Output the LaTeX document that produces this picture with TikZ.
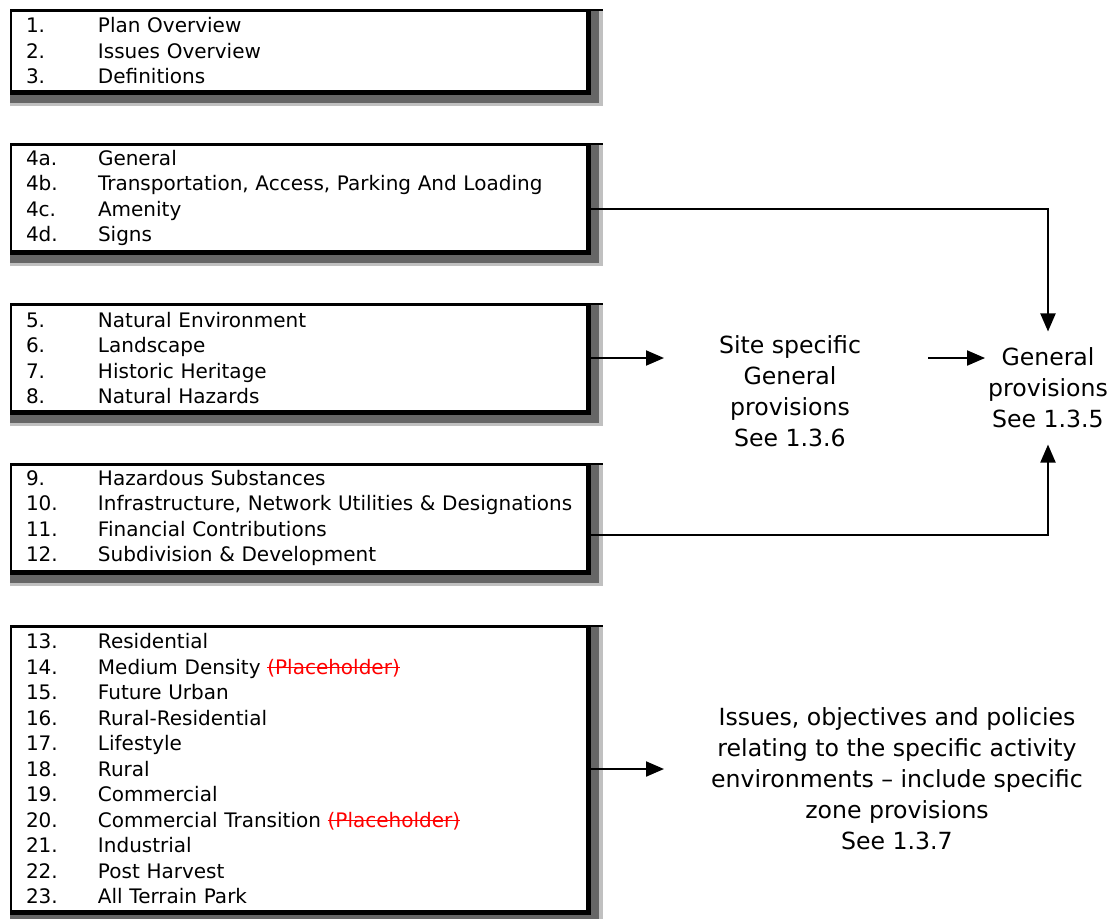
\documentclass[tikz,border=0pt]{standalone}
\usepackage{fontspec}
\setmainfont{DejaVu Sans}
\usetikzlibrary{arrows.meta,backgrounds}

\definecolor{shadedark}{RGB}{102,102,102}
\definecolor{shadelight}{RGB}{192,192,192}

\newsavebox\strikebox
% one numbered line of a list box
\newcommand{\entry}[2]{\makebox[36pt][l]{#1}\mbox{#2}}
% red struck-out text
\newcommand{\struck}[1]{\sbox\strikebox{\color{red}#1}{\color{red}\rlap{\usebox\strikebox}\rule[0.3em]{\wd\strikebox}{0.6pt}}}
% shadow bands right and below a list box
\newcommand{\shadebox}[1]{%
  \begin{scope}[on background layer]
    \fill[shadelight] (#1.north west) rectangle ([xshift=7.5pt,yshift=-7pt]#1.south east);
    \fill[shadedark] (#1.north west) rectangle ([xshift=5.5pt,yshift=-5.5pt]#1.south east);
    \fill (#1.north west) rectangle ([xshift=1.5pt,yshift=-1.5pt]#1.south east);
  \end{scope}
  \draw[line width=1pt] (#1.north west) -- ([xshift=7.5pt]#1.north east);}

\tikzset{
  listbox/.style={draw, line width=1pt, fill=white, anchor=north west,
    inner xsep=7.5pt, inner ysep=0pt, text width=273pt, align=left,
    font=\fontsize{10}{12.75}\selectfont},
  note/.style={align=center, font=\fontsize{11.8}{15.5}\selectfont},
  link/.style={line width=1pt, -{Triangle[length=9pt,width=7.5pt]}}
}

\begin{document}
\begin{tikzpicture}[x=0.5pt,y=-0.5pt]
\useasboundingbox (0,0) rectangle (1120,918);

% list boxes
\node[listbox, minimum height=40pt] (b1) at (10,10)
  {\entry{1.}{Plan Overview}\\ \entry{2.}{Issues Overview}\\ \entry{3.}{Definitions}};
\node[listbox, minimum height=53pt] (b2) at (10,144)
  {\entry{4a.}{General}\\ \entry{4b.}{Transportation, Access, Parking And Loading}\\
   \entry{4c.}{Amenity}\\ \entry{4d.}{Signs}};
\node[listbox, minimum height=53pt] (b3) at (10,304)
  {\entry{5.}{Natural Environment}\\ \entry{6.}{Landscape}\\
   \entry{7.}{Historic Heritage}\\ \entry{8.}{Natural Hazards}};
\node[listbox, minimum height=53pt] (b4) at (10,464)
  {\entry{9.}{Hazardous Substances}\\ \entry{10.}{Infrastructure, Network Utilities \& Designations}\\
   \entry{11.}{Financial Contributions}\\ \entry{12.}{Subdivision \& Development}};
\node[listbox, minimum height=142pt] (b5) at (10,626)
  {\entry{13.}{Residential}\\ \entry{14.}{Medium Density \struck{(Placeholder)}}\\
   \entry{15.}{Future Urban}\\ \entry{16.}{Rural-Residential}\\ \entry{17.}{Lifestyle}\\
   \entry{18.}{Rural}\\ \entry{19.}{Commercial}\\
   \entry{20.}{Commercial Transition \struck{(Placeholder)}}\\
   \entry{21.}{Industrial}\\ \entry{22.}{Post Harvest}\\ \entry{23.}{All Terrain Park}};
\foreach \b in {b1,b2,b3,b4,b5} {\shadebox{\b}}

% provisions
\node[note] (site) at (790,391) {Site specific\\General\\provisions\\See 1.3.6};
\node[note, inner ysep=8pt] (gp) at (1048,388) {General\\provisions\\See 1.3.5};
\node[note] (zone) at (897,779)
  {Issues, objectives and policies\\relating to the specific activity\\
   environments -- include specific\\zone provisions\\See 1.3.7};

% connectors
\draw[link] ([yshift=-5.5pt]b2.east) -| (gp.north);
\draw[link] ([yshift=-8.5pt]b4.east) -| (gp.south);
\draw[link] (b3.east) -- ++(38pt,0);
\draw[link] (site.east |- b3.east) ++(30pt,0) -- ++(28.5pt,0);
\draw[link] (b5.east) -- ++(38pt,0);
\end{tikzpicture}
\end{document}
